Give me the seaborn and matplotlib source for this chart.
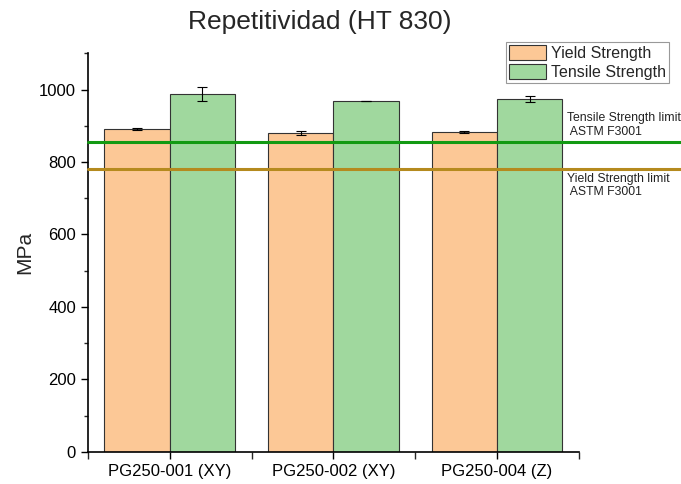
import matplotlib
matplotlib.use("Agg")
import matplotlib.pyplot as plt
from matplotlib.ticker import MultipleLocator, FixedLocator
import seaborn as sns
import pandas as pd

samples = ["PG250-001 (XY)", "PG250-002 (XY)", "PG250-004 (Z)"]
yield_strength = [891, 880, 883]
yield_err = [3, 6, 4]
tensile_strength = [988, 968, 974]
tensile_err = [20, 0, 8]
series_names = ["Yield Strength", "Tensile Strength"]
tensile_limit = 855
yield_limit = 780

sns.set_style("ticks")
plt.rcParams["font.family"] = ["Liberation Sans", "DejaVu Sans"]

df = pd.DataFrame({
    "sample": samples * 2,
    "series": [series_names[0]] * 3 + [series_names[1]] * 3,
    "value": yield_strength + tensile_strength,
})
errs = {series_names[0]: yield_err, series_names[1]: tensile_err}

fig = plt.figure(figsize=(6.81, 4.84), dpi=100)
ax = fig.add_axes([0.129, 0.0667, 0.721, 0.8228])

palette = {series_names[0]: "#FCC896", series_names[1]: "#A0D89E"}
sns.barplot(data=df, x="sample", y="value", hue="series", palette=palette,
            errorbar=None, width=0.8, gap=0, edgecolor="#333333", linewidth=0.8,
            saturation=1, ax=ax, zorder=2)

for cont, name in zip(ax.containers, series_names):
    xs = [p.get_x() + p.get_width() / 2 for p in cont.patches]
    ys = [p.get_height() for p in cont.patches]
    ax.errorbar(xs, ys, yerr=errs[name], fmt="none", ecolor="black",
                elinewidth=0.8, capsize=3.5, capthick=0.8, zorder=3)

ax.set_xlim(-0.5, 2.5)
ax.set_ylim(0, 1100)
ax.yaxis.set_major_locator(MultipleLocator(200))
ax.yaxis.set_minor_locator(MultipleLocator(100))
ax.xaxis.set_minor_locator(FixedLocator([-0.5, 0.5, 1.5, 2.5]))
ax.tick_params(axis="both", which="major", direction="out", length=5, width=1,
               labelsize=12, colors="black")
ax.tick_params(axis="y", which="minor", direction="out", length=3, width=1)
ax.tick_params(axis="x", which="minor", direction="out", length=5, width=1)
for s in ["top", "right"]:
    ax.spines[s].set_visible(False)
for s in ["left", "bottom"]:
    ax.spines[s].set_linewidth(1.2)
    ax.spines[s].set_color("black")

ax.set_xlabel("")
ax.set_ylabel("MPa", fontsize=15, labelpad=14)
ax.yaxis.set_label_coords(-0.11, 0.5)

ext = (681 - 88) / (579 - 88)
ax.axhline(tensile_limit, xmin=0, xmax=ext, color="#129A12", lw=2.2, clip_on=False, zorder=4)
ax.axhline(yield_limit, xmin=0, xmax=ext, color="#B58A1E", lw=2.2, clip_on=False, zorder=4)

ax.text(2.43, tensile_limit + 12, "Tensile Strength limit\n ASTM F3001", fontsize=8.8,
        va="bottom", ha="left", linespacing=1.15, clip_on=False, color="#222222")
ax.text(2.43, yield_limit - 10, "Yield Strength limit\n ASTM F3001", fontsize=8.8,
        va="top", ha="left", linespacing=1.15, clip_on=False, color="#222222")

fig.text(0.47, 0.955, "Repetitividad (HT 830)", fontsize=19, ha="center", va="center")

leg = ax.legend(loc="upper right", bbox_to_anchor=(0.982, 0.913),
                bbox_transform=fig.transFigure, fontsize=11.5, frameon=True,
                fancybox=False, edgecolor="#999999", framealpha=1,
                handlelength=2.3, handleheight=1.05, handletextpad=0.3,
                labelspacing=0.2, borderpad=0.2, borderaxespad=0)
leg.get_frame().set_linewidth(0.8)

fig.savefig("out.png", dpi=100)
